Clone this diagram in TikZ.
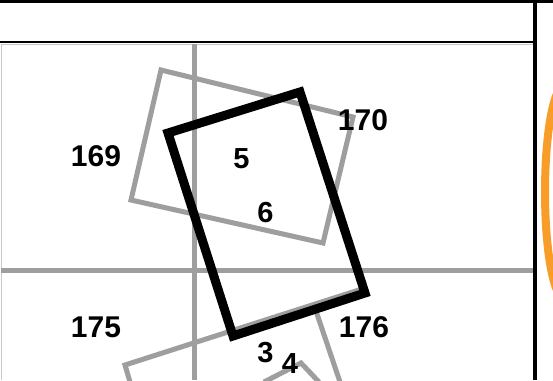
\documentclass[tikz,border=0pt]{standalone}
\usepackage{fontspec}
\setmainfont{Liberation Sans}
\definecolor{gridgrey}{RGB}{158,158,158}
\definecolor{framegrey}{RGB}{200,200,200}
\definecolor{ringorange}{RGB}{248,158,40}
\begin{document}
\begin{tikzpicture}[x=1pt,y=-1pt,
  gridline/.style={draw=gridgrey,line width=5pt},
  footprint/.style={draw=gridgrey,line width=5pt,line join=miter},
  mainframe/.style={draw=black,line width=9pt,line join=miter},
  sheetlabel/.style={font=\fontsize{30}{30}\selectfont\bfseries,inner sep=0pt,text=black},
  framelabel/.style={font=\fontsize{29}{29}\selectfont\bfseries,inner sep=0pt,text=black}]
\useasboundingbox (0,0) rectangle (553,380);
\fill[white] (0,0) rectangle (553,380);
% thin light frame
\draw[framegrey,line width=0.8pt] (1,44) -- (1,380);
\draw[framegrey,line width=0.8pt] (1,44) -- (533,44) -- (533,380);
% orange ring (partly visible)
\draw[ringorange,line width=8pt] (564.5,192) ellipse [x radius=19.5, y radius=106.5];
% grid lines
\draw[gridline] (194,44) -- (194,380);
\draw[gridline] (1,270.8) -- (533,270.8);
% grey footprints
\draw[footprint] (161,70) -- (353,117) -- (323,243) -- (131,200) -- cycle;
\draw[footprint] (130,382) -- (125,365) -- (362,289);
\draw[footprint] (316,311) -- (340,382);
\draw[footprint] (264,382) -- (301,363) -- (319,382);
% black frame
\draw[mainframe] (168,133) -- (300,92) -- (365,293) -- (233,336) -- cycle;
% page borders
\draw[black,line width=3pt] (0,1) -- (553,1);
\draw[black,line width=2.7pt] (0,42) -- (535,42);
\draw[black,line width=4pt] (535,0) -- (535,380);
% labels
\node[sheetlabel] (s169) at (96,156.5) {169};
\node[sheetlabel] (s170) at (363,120) {170};
\node[sheetlabel] (s175) at (96,327.5) {175};
\node[sheetlabel] (s176) at (364,327.5) {176};
\node[framelabel] (f5) at (241.5,158.5) {5};
\node[framelabel] (f6) at (265.5,212.5) {6};
\node[framelabel] (f3) at (265.5,353) {3};
\node[framelabel] (f4) at (290,364) {4};
\end{tikzpicture}
\end{document}
